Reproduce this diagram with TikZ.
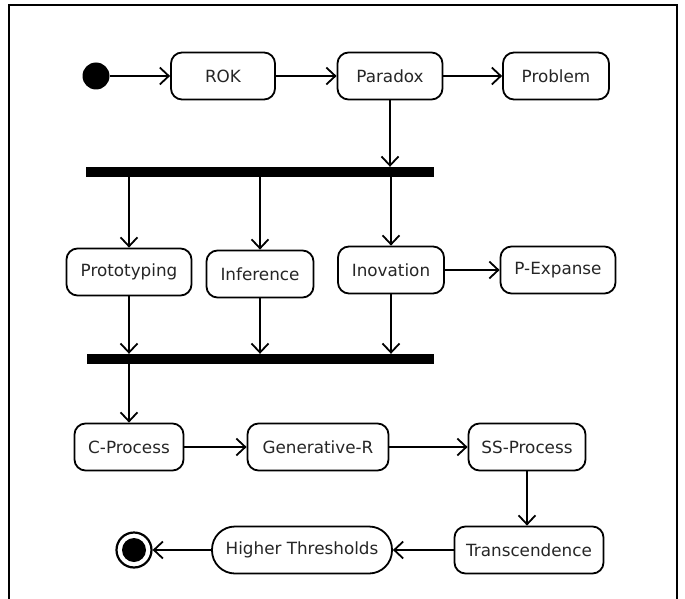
\documentclass[tikz,border=0pt]{standalone}
\usepackage{fontspec}
\setmainfont{DejaVu Sans}
\usetikzlibrary{arrows.meta}
\begin{document}
\begin{tikzpicture}[x=1pt,y=-1pt,
  act/.style={draw,line width=1.8pt,rounded corners=11pt,fill=white,text=black!85,font=\fontsize{16.8}{19}\selectfont,inner sep=0pt,minimum height=47pt},
  stad/.style={act,rounded corners=23pt},
  bar/.style={fill=black,draw=none,inner sep=0pt,minimum height=10pt},
  flow/.style={line width=1.8pt,-{Straight Barb[length=9pt,width=17pt,line width=1.8pt]}},
]
\path[use as bounding box] (0,0) rectangle (685,599);
\clip (0,0) rectangle (685,599);
\draw[line width=2pt] (9,5) rectangle (677,620);

\node[circle,fill=black,inner sep=0pt,minimum size=27pt] (start) at (96,76) {};
\node[act,minimum width=104pt] (rok) at (223,76) {ROK};
\node[act,minimum width=105pt] (paradox) at (390,76) {Paradox};
\node[act,minimum width=106pt] (problem) at (556,76) {Problem};

\node[bar,minimum width=348pt] (fork) at (260,172) {};

\node[act,minimum width=125pt] (proto) at (129,272) {Prototyping};
\node[act,minimum width=107pt] (infer) at (260,274) {Inference};
\node[act,minimum width=106pt] (inov) at (391,270) {Inovation};
\node[act,minimum width=115pt] (pexp) at (558,270) {P-Expanse};

\node[bar,minimum width=347pt] (join) at (260,359) {};

\node[act,minimum width=109pt] (cproc) at (129,447) {C-Process};
\node[act,minimum width=141pt] (gen) at (318,447) {Generative-R};
\node[act,minimum width=117pt] (ssp) at (527,447) {SS-Process};
\node[act,minimum width=149pt] (trans) at (529,550) {Transcendence};
\node[stad,minimum width=180pt] (higher) at (302,550) {Higher Thresholds};

\node[circle,draw,line width=2.2pt,fill=white,inner sep=0pt,minimum size=35pt] (endo) at (134,550) {};
\node[circle,fill=black,inner sep=0pt,minimum size=24pt] (endi) at (134,550) {};

\draw[flow] (start) -- (rok);
\draw[flow] (rok) -- (paradox);
\draw[flow] (paradox) -- (problem);
\draw[flow] (paradox.south) -- (paradox.south |- fork.north);
\draw[flow] (fork.south -| proto.north) -- (proto.north);
\draw[flow] (fork.south -| infer.north) -- (infer.north);
\draw[flow] (fork.south -| inov.north) -- (inov.north);
\draw[flow] (inov) -- (pexp);
\draw[flow] (proto.south) -- (proto.south |- join.north);
\draw[flow] (infer.south) -- (infer.south |- join.north);
\draw[flow] (inov.south) -- (inov.south |- join.north);
\draw[flow] (join.south -| cproc.north) -- (cproc.north);
\draw[flow] (cproc) -- (gen);
\draw[flow] (gen) -- (ssp);
\draw[flow] (ssp.south) -- (ssp.south |- trans.north);
\draw[flow] (trans) -- (higher);
\draw[flow] (higher) -- (endo);
\end{tikzpicture}
\end{document}
